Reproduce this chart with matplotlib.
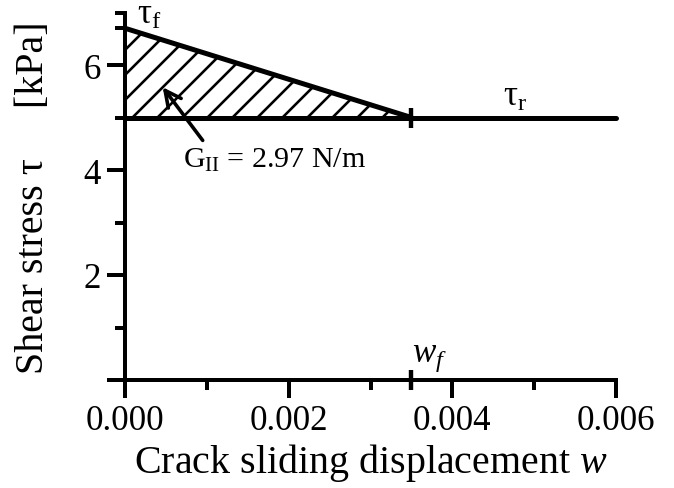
import matplotlib
matplotlib.use("Agg")
import matplotlib.pyplot as plt

# Data
tau_f = 6.7      # peak shear stress [kPa]
tau_r = 5.0      # residual shear stress [kPa]
w_f = 0.0035     # critical sliding displacement
w_max = 0.006
x_major = [0.000, 0.002, 0.004, 0.006]
x_major_labels = ["0.000", "0.002", "0.004", "0.006"]
x_minor = [0.001, 0.003, 0.005]
y_major = [0, 2, 4, 6]
y_major_labels = ["", "2", "4", "6"]
y_minor = [1, 3, 5, 7, tau_f]
G_label = r"G$_{\mathrm{II}}$ = 2.97 N/m"

DPI = 150
P = 72.0 / DPI   # points per pixel

plt.rcParams['font.family'] = ['Liberation Serif', 'DejaVu Serif']
plt.rcParams['mathtext.fontset'] = 'custom'
plt.rcParams['mathtext.rm'] = 'Liberation Serif'
plt.rcParams['mathtext.it'] = 'Liberation Serif:italic'
plt.rcParams['hatch.linewidth'] = 2.6 * P

fig = plt.figure(figsize=(674 / DPI, 489 / DPI), dpi=DPI)
ax = fig.add_axes([125 / 674, 1 - 381 / 489, (616 - 125) / 674, (381 - 13.5) / 489])

ax.set_xlim(0, w_max)
ax.set_ylim(0, 7)

# hatched area
ax.fill([0, 0, w_f], [tau_r, tau_f, tau_r], facecolor='none', edgecolor='black',
        hatch='//', linewidth=0)

lw = 5 * P
ax.plot([0, w_max], [tau_r, tau_r], color='black', lw=lw, solid_capstyle='round', clip_on=False)
ax.plot([0, w_f], [tau_f, tau_r], color='black', lw=lw, solid_capstyle='round', clip_on=False)

# crossing ticks at w_f
ax.plot([w_f], [tau_r], marker='|', ms=20 * P, mew=4.4 * P, color='black', clip_on=False)
ax.plot([w_f], [0], marker='|', ms=20 * P, mew=4.4 * P, color='black', clip_on=False, zorder=5)

for s in ['top', 'right']:
    ax.spines[s].set_visible(False)
for s in ['left', 'bottom']:
    ax.spines[s].set_linewidth(4 * P)

ax.set_xticks(x_major)
ax.set_xticklabels(x_major_labels)
ax.set_xticks(x_minor, minor=True)
ax.set_yticks(y_major)
ax.set_yticklabels(y_major_labels)
ax.set_yticks(y_minor, minor=True)
fs_tick = 35 * P
fs_lab = 40 * P
ax.tick_params(which='major', direction='out', length=18 * P, width=4 * P,
               labelsize=fs_tick, pad=6 * P)
ax.tick_params(which='minor', direction='out', length=10 * P, width=4 * P)

ax.set_xlabel(r"Crack sliding displacement $w$", fontsize=fs_lab, labelpad=4 * P)
ax.set_ylabel("Shear stress \u03c4     [kPa]", fontsize=fs_lab, labelpad=32 * P)

ax.text(0.00015, 6.97, r"$\mathrm{\tau}_{\mathrm{f}}$", fontsize=fs_tick, ha='left', va='center')
ax.text(0.00477, 5.4, r"$\mathrm{\tau}_{\mathrm{r}}$", fontsize=fs_tick, ha='center', va='center')
ax.text(w_f + 0.00001, 0.44, r"$w_f$", fontsize=fs_tick, ha='left', va='center')
ax.text(0.00071, 4.2, G_label, fontsize=30 * P, ha='left', va='center')
ax.annotate("", xy=(0.00043, 5.64), xytext=(0.00098, 4.5),
            arrowprops=dict(arrowstyle='->', lw=3.6 * P, color='black',
                            mutation_scale=40 * P))

fig.savefig("out.png", dpi=DPI)
